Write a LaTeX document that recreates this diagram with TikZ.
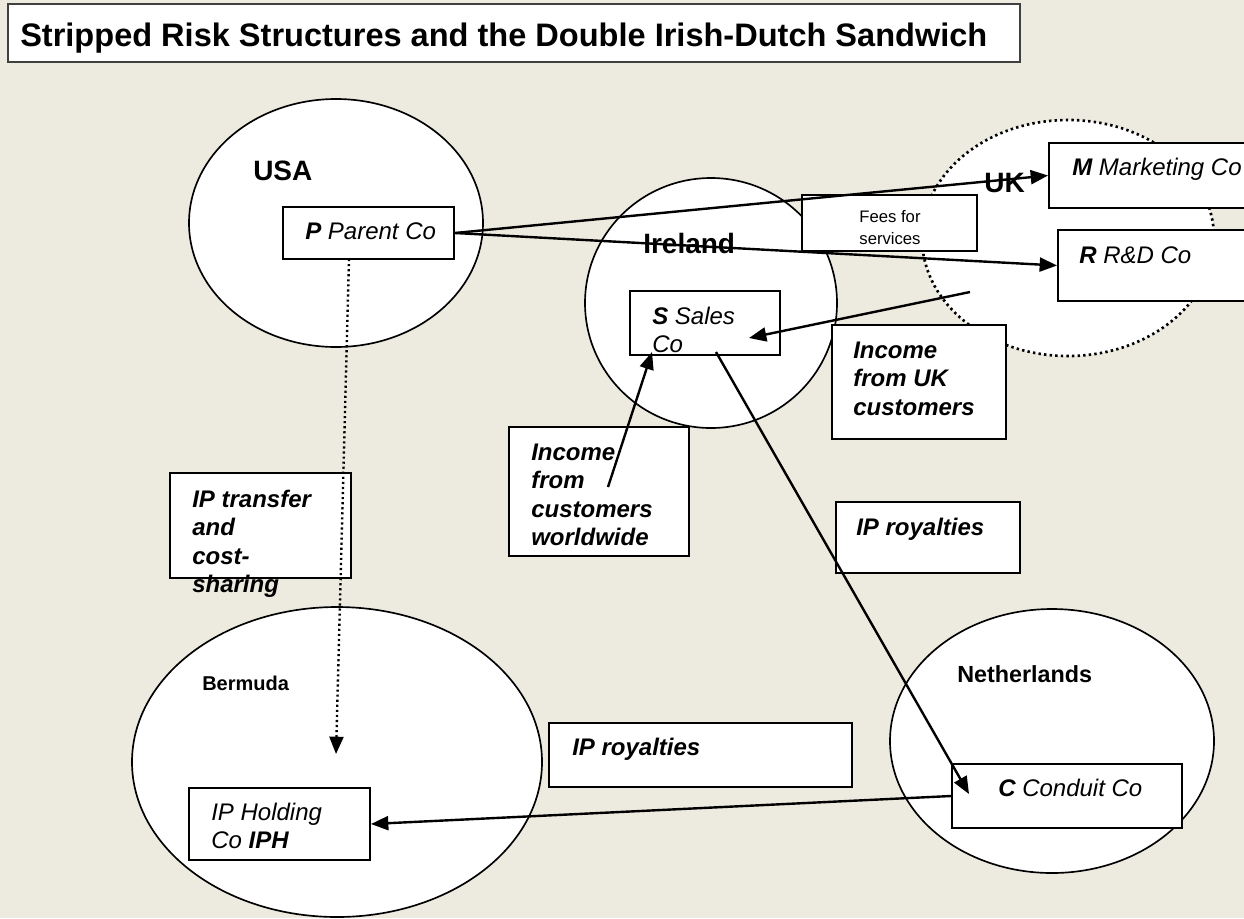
\documentclass[tikz,border=0pt]{standalone}
\usepackage{fontspec}
\setmainfont{Liberation Sans}
\usetikzlibrary{arrows.meta,fit}
\definecolor{bg}{RGB}{237,234,224}
\begin{document}
\begin{tikzpicture}[x=0.75pt,y=-0.75pt,
  country/.style={draw=black, fill=white, line width=1.25pt},
  box/.style={draw=black, fill=white, line width=1.5pt, inner sep=0pt},
  lbl/.style={anchor=base west, inner sep=0pt, font=\fontsize{18}{21.4}\selectfont\itshape},
  blbl/.style={anchor=base west, inner sep=0pt, font=\fontsize{18}{21.4}\selectfont\bfseries\itshape},
  cname/.style={anchor=base west, inner sep=0pt, font=\fontsize{21}{25}\selectfont\bfseries},
  flow/.style={line width=1.8pt, -{Triangle[length=13pt,width=10.5pt]}},
]
\useasboundingbox (0,0) rectangle (1244,918);
\fill[bg] (0,0) rectangle (1244,918);
\clip (0,0) rectangle (1244,918);

% title
\node[box, draw=black!75, fit={(8,4)(1020,62)}] (titlebox) {};
\node[anchor=base west, inner sep=0pt, font=\fontsize{24.4}{28}\selectfont\bfseries] (title) at (20,46) {Stripped Risk Structures and the Double Irish-Dutch Sandwich};

% countries
\draw[country] (336,223) ellipse [x radius=147, y radius=124];
\draw[country] (711,303) ellipse [x radius=126, y radius=125];
\draw[country, line width=2pt, dash pattern=on 1.8pt off 2.4pt] (1068,238) ellipse [x radius=146, y radius=118];
\draw[country] (337,762) ellipse [x radius=205, y radius=155];
\draw[country] (1052,741) ellipse [x radius=162, y radius=132];

% boxes
\node[box, fit={(283,207)(454,259)}] (P) {};
\node[box, fit={(630,291)(780,355)}] (S) {};
\node[box, fit={(1049,143)(1250,208)}] (M) {};
\node[box, fit={(1058,230)(1250,301)}] (R) {};
\node[box, fit={(802,195)(977,251)}] (fees) {};
\node[box, fit={(832,325)(1006,439)}] (ukinc) {};
\node[box, fit={(509,427)(689,556)}] (wwinc) {};
\node[box, fit={(170,473)(351,578)}] (iptr) {};
\node[box, fit={(836,502)(1020,573)}] (roy1) {};
\node[box, fit={(549,723)(852,787)}] (roy2) {};
\node[box, fit={(189,788)(370,860)}] (IPH) {};
\node[box, fit={(952,764)(1182,828)}] (C) {};

% country names
\node[cname] (usa) at (253,180) {USA};
\node[cname] (ire) at (643,253) {Ireland};
\node[cname] (uk) at (984,192) {UK};
\node[anchor=base west, inner sep=0pt, font=\fontsize{15}{18}\selectfont\bfseries] (ber) at (202,690) {Bermuda};
\node[anchor=base west, inner sep=0pt, font=\fontsize{17.5}{21}\selectfont\bfseries] (neth) at (957,682) {Netherlands};

% box texts
\node[lbl] (Pt) at (305,239) {\textbf{P} Parent Co};
\node[lbl] (St) at (652,324) {\vtop{\hbox{\textbf{S} Sales}\hbox{Co}}};
\node[lbl] (Mt) at (1072,175) {\textbf{M} Marketing Co};
\node[lbl] (Rt) at (1079,263) {\textbf{R} R\&D Co};
\node[anchor=base, inner sep=0pt, font=\fontsize{12.5}{17.2}\selectfont] (feest) at (890,222) {\vtop{\hbox to 70pt{\hss Fees for\hss}\hbox to 70pt{\hss services\hss}}};
\node[blbl] (ukinct) at (853,358) {\vtop{\hbox{Income}\hbox{from UK}\hbox{customers}}};
\node[blbl] (wwinct) at (531,460) {\vtop{\hbox{Income}\hbox{from}\hbox{customers}\hbox{worldwide}}};
\node[blbl] (iptrt) at (192,507) {\vtop{\hbox{IP transfer}\hbox{and}\hbox{cost-}\hbox{sharing}}};
\node[blbl] (roy1t) at (856,535) {IP royalties};
\node[blbl] (roy2t) at (572,755) {IP royalties};
\node[lbl] (IPHt) at (211,820) {\vtop{\hbox{IP Holding}\hbox{Co \textbf{IPH}}}};
\node[lbl] (Ct) at (998,796) {\textbf{C} Conduit Co};

% connectors
\coordinate (ukfrom) at (970,292);
\coordinate (sin1) at (749,338);
\coordinate (wwfrom) at (608,487);
\coordinate (sin2) at (652,352);
\coordinate (sout) at (716,352);
\coordinate (cin) at (969,794);
\coordinate (pout) at (349,259);
\coordinate (iphin) at (336,754);

\draw[flow] (P.east) -- (M.west);
\draw[flow] (P.east) -- (R.west);
\draw[flow] (ukfrom) -- (sin1);
\draw[flow] (wwfrom) -- (sin2);
\draw[flow] (sout) -- (cin);
\draw[flow] (C.west) -- (IPH.east);
\draw[flow, dash pattern=on 1.6pt off 2.2pt] (pout) -- (iphin);
\end{tikzpicture}
\end{document}
